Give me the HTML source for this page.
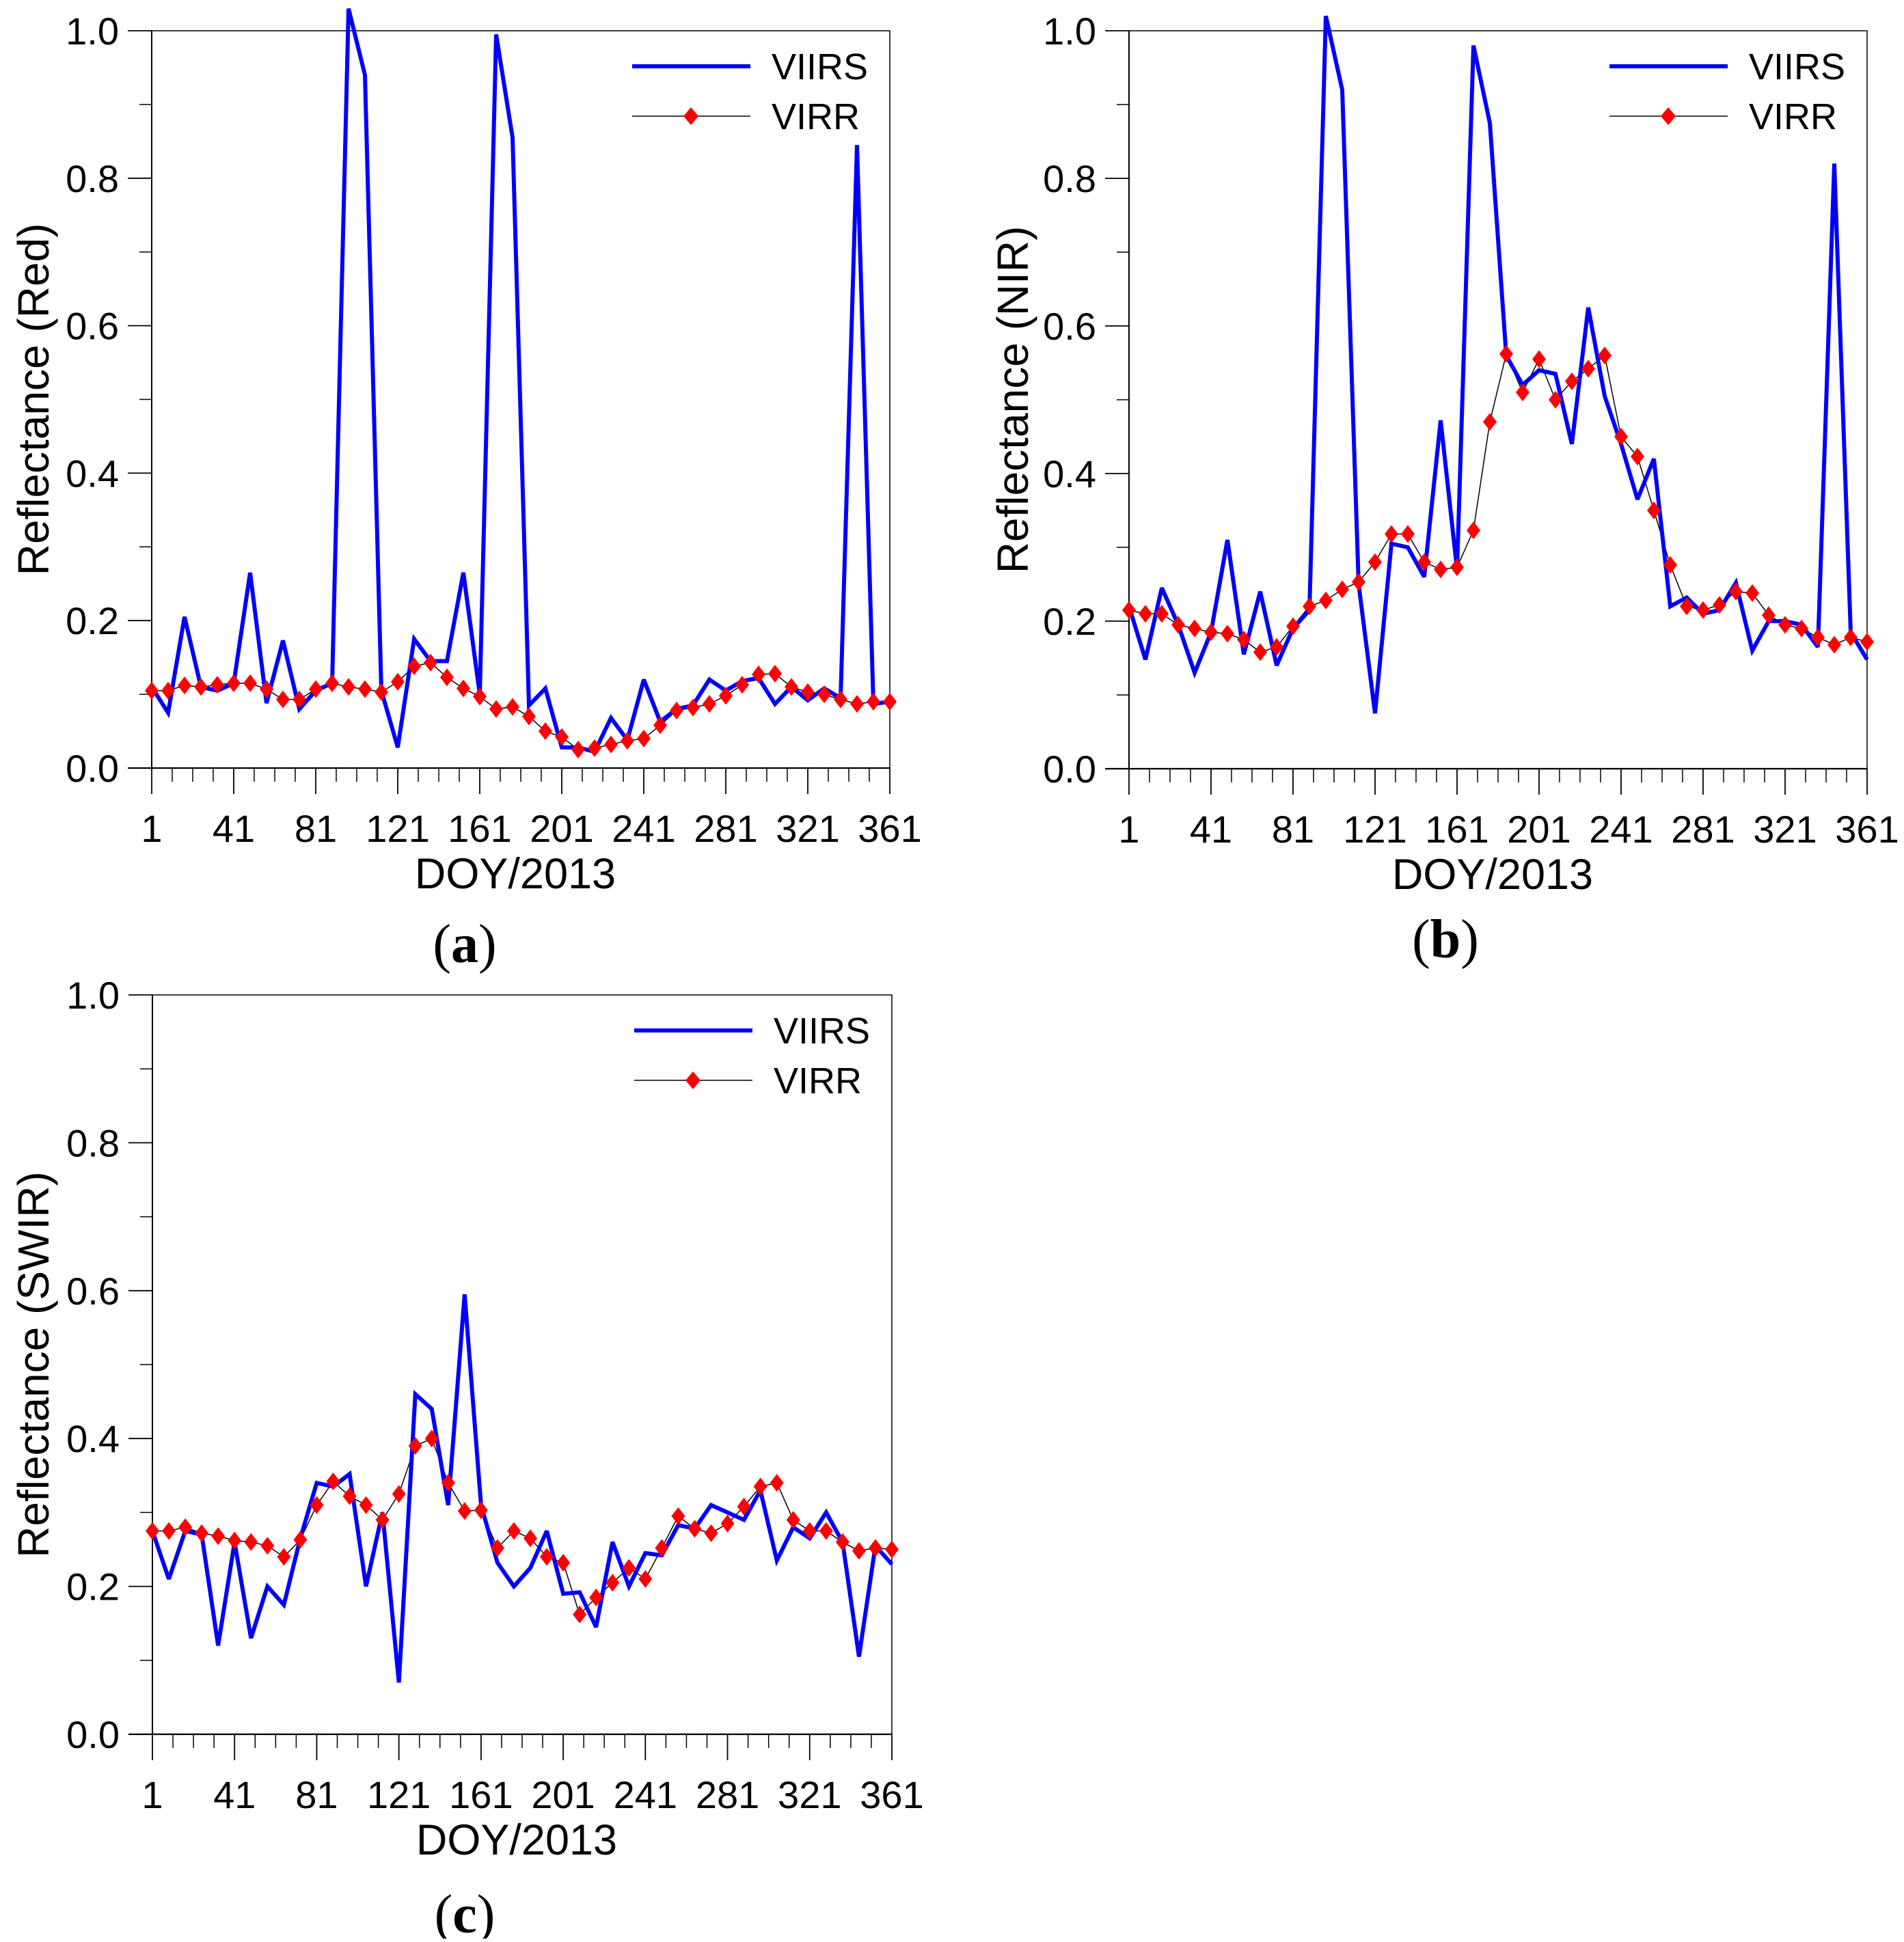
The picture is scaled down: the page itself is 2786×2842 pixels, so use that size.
<!DOCTYPE html>
<html><head><meta charset="utf-8"><style>
html,body{margin:0;padding:0;background:#fff;}
svg text{font-family:"Liberation Sans",sans-serif;fill:#000;}
</style></head><body>
<svg id="chart" width="2786" height="2837" viewBox="0 0 2786 2837" xmlns="http://www.w3.org/2000/svg"></svg>
<script>
const doys = [];
for (let d = 1; d <= 361; d += 8) doys.push(d);
const xTickLabels = ["1","41","81","121","161","201","241","281","321","361"];
const yTickLabels = ["0.0","0.2","0.4","0.6","0.8","1.0"];
const redViirs = [0.11,0.075,0.205,0.11,0.105,0.115,0.265,0.088,0.173,0.08,0.105,0.115,1.03,0.94,0.105,0.028,0.175,0.145,0.145,0.265,0.1,0.995,0.855,0.085,0.108,0.028,0.028,0.022,0.068,0.038,0.12,0.063,0.08,0.085,0.12,0.105,0.118,0.122,0.087,0.11,0.092,0.108,0.095,0.845,0.087,0.09];
const redVirr = [0.105,0.105,0.112,0.11,0.113,0.115,0.115,0.107,0.093,0.093,0.107,0.115,0.11,0.107,0.103,0.117,0.138,0.143,0.123,0.108,0.097,0.08,0.083,0.07,0.05,0.042,0.025,0.027,0.032,0.037,0.04,0.058,0.078,0.082,0.087,0.098,0.113,0.127,0.128,0.11,0.103,0.1,0.093,0.087,0.09,0.09];
const nirViirs = [0.22,0.148,0.245,0.195,0.13,0.185,0.31,0.155,0.24,0.14,0.19,0.215,1.02,0.92,0.25,0.075,0.305,0.3,0.26,0.472,0.27,0.98,0.875,0.56,0.52,0.54,0.535,0.44,0.625,0.505,0.44,0.365,0.42,0.22,0.232,0.21,0.215,0.252,0.16,0.2,0.2,0.195,0.165,0.82,0.185,0.148];
const nirVirr = [0.215,0.21,0.21,0.195,0.19,0.185,0.183,0.175,0.158,0.165,0.193,0.22,0.228,0.243,0.253,0.28,0.318,0.318,0.28,0.27,0.273,0.323,0.47,0.562,0.51,0.555,0.5,0.525,0.542,0.56,0.45,0.423,0.35,0.276,0.22,0.215,0.222,0.24,0.238,0.208,0.195,0.19,0.178,0.168,0.178,0.172];
const swirViirs = [0.275,0.21,0.275,0.27,0.12,0.26,0.13,0.2,0.175,0.265,0.34,0.335,0.352,0.2,0.3,0.07,0.46,0.44,0.31,0.595,0.31,0.232,0.2,0.225,0.275,0.19,0.192,0.145,0.26,0.2,0.245,0.242,0.283,0.278,0.31,0.3,0.29,0.33,0.235,0.28,0.265,0.3,0.26,0.105,0.255,0.23];
const swirVirr = [0.275,0.275,0.28,0.272,0.268,0.262,0.26,0.255,0.24,0.263,0.31,0.342,0.322,0.31,0.29,0.325,0.39,0.4,0.34,0.302,0.303,0.252,0.275,0.265,0.24,0.232,0.162,0.185,0.205,0.225,0.21,0.252,0.295,0.278,0.272,0.285,0.308,0.335,0.34,0.29,0.275,0.275,0.26,0.248,0.252,0.25];

const NS = "http://www.w3.org/2000/svg";
const svg = document.getElementById('chart');
function mk(tag, attrs, parent){
  const e = document.createElementNS(NS, tag);
  for (const k in attrs) e.setAttribute(k, attrs[k]);
  (parent||svg).appendChild(e);
  return e;
}
const panels = [
  {id:'red', L:222, R:1302, T:45, B:1124, title:'Reflectance (Red)', label:'a', labX:680, labY:1382, tx:49, viirs:redViirs, virr:redVirr},
  {id:'nir', L:1652, R:2732, T:45, B:1125, title:'Reflectance (NIR)', label:'b', labX:2115, labY:1375, tx:1482, viirs:nirViirs, virr:nirVirr},
  {id:'swir', L:223, R:1305, T:1456, B:2538, title:'Reflectance (SWIR)', label:'c', labX:680, labY:2802, tx:49, viirs:swirViirs, virr:swirVirr}
];
panels.forEach(p => {
  const g = mk('g', {});
  
  
  const xs = d => p.L + (d - 1) / 360 * (p.R - p.L);
  const ys = v => p.B - v * (p.B - p.T);
  const frame = mk('rect', {x:p.L, y:p.T, width:p.R-p.L, height:p.B-p.T, fill:'none', stroke:'#000', 'stroke-width':1.5}, g);
  
  
  const xaxis = mk('line', {x1:p.L-35, x2:p.R, y1:p.B, y2:p.B, stroke:'#000', 'stroke-width':2.3}, g);
  
  
  const yaxis = mk('line', {x1:p.L, x2:p.L, y1:p.T, y2:p.B, stroke:'#000', 'stroke-width':2}, g);
  
  
  for (let d = 1; d <= 361; d += 10) {
    const major = (d - 1) % 40 === 0;
    mk('line', {x1:xs(d), x2:xs(d), y1:p.B, y2:p.B + (major ? 38 : 20), stroke:'#000', 'stroke-width':major ? 1.8 : 1.5}, g);
  }
  xTickLabels.forEach(t => {
    const tx = mk('text', {x:xs(+t), y:p.B + 108, 'font-size':56, 'text-anchor':'middle'}, g);
    tx.textContent = t;
    
    
  });
  for (let i = 0; i <= 10; i++) {
    const v = i / 10;
    if (i % 2 === 0) continue;
    mk('line', {x1:p.L - 18, x2:p.L, y1:ys(v), y2:ys(v), stroke:'#000', 'stroke-width':1.5}, g);
  }
  yTickLabels.forEach(t => {
    mk('line', {x1:p.L - 35, x2:p.L, y1:ys(+t), y2:ys(+t), stroke:'#000', 'stroke-width':1.8}, g);
    const ty = mk('text', {x:p.L - 48, y:ys(+t) + 20, 'font-size':56, 'text-anchor':'end'}, g);
    ty.textContent = t;
    
    
  });
  const xt = mk('text', {x:(p.L + p.R) / 2 - 8, y:p.B + 176, 'font-size':63, 'text-anchor':'middle'}, g);
  xt.textContent = 'DOY/2013';
  
  
  const cy = (p.T + p.B) / 2;
  const ax = p.tx + 22;
  const yt = mk('text', {x:ax, y:cy, 'font-size':64, 'text-anchor':'middle', transform:'rotate(-90 ' + ax + ' ' + cy + ')'}, g);
  yt.textContent = p.title;
  
  
  const lab = mk('text', {x:p.labX, y:p.labY + 26, 'font-size':80, 'text-anchor':'middle'}, g);
  lab.innerHTML = '(<tspan font-weight="bold">' + p.label + '</tspan>)';
  lab.setAttribute('style', 'font-family:"Liberation Serif",serif');
  
  
  const virrPts = p.virr.map((v, i) => xs(doys[i]) + ',' + ys(v)).join(' ');
  const virrLine = mk('polyline', {points:virrPts, fill:'none', stroke:'#000', 'stroke-width':1.5}, g);
  
  
  const viirsPts = p.viirs.map((v, i) => xs(doys[i]) + ',' + ys(v)).join(' ');
  const viirsLine = mk('polyline', {points:viirsPts, fill:'none', stroke:'#0000ff', 'stroke-width':6, 'stroke-linejoin':'miter', 'stroke-miterlimit':3}, g);
  
  
  p.virr.forEach((v, i) => {
    const x = xs(doys[i]), y = ys(v);
    const m = mk('polygon', {points:(x) + ',' + (y - 13) + ' ' + (x + 10) + ',' + y + ' ' + x + ',' + (y + 13) + ' ' + (x - 10) + ',' + y, fill:'#ff0000'}, g);
    
    
  });
  const lx = p.R - 377, ly1 = p.T + 52, ly2 = p.T + 125;
  const leg = mk('g', {}, g);
  
  
  mk('line', {x1:lx, x2:lx + 173, y1:ly1, y2:ly1, stroke:'#0000ff', 'stroke-width':6}, leg);
  const t1 = mk('text', {x:lx + 204, y:ly1 + 19, 'font-size':54}, leg);
  t1.textContent = 'VIIRS';
  
  
  mk('line', {x1:lx, x2:lx + 173, y1:ly2, y2:ly2, stroke:'#000', 'stroke-width':1.5}, leg);
  const mx = lx + 86;
  mk('polygon', {points:mx + ',' + (ly2 - 13) + ' ' + (mx + 11) + ',' + ly2 + ' ' + mx + ',' + (ly2 + 13) + ' ' + (mx - 11) + ',' + ly2, fill:'#ff0000'}, leg);
  const t2 = mk('text', {x:lx + 204, y:ly2 + 19, 'font-size':54}, leg);
  t2.textContent = 'VIRR';
  
  
});
</script>
</body></html>
